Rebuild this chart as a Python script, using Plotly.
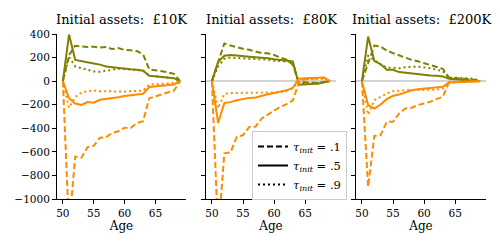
import plotly.graph_objects as go

ages = [50, 51, 52, 53, 54, 55, 56, 57, 58, 59, 60, 61, 62, 63, 64, 65, 66, 67, 68, 69]
titles = ["Initial assets:  £10K", "Initial assets:  £80K", "Initial assets:  £200K"]
legend_labels = ["<i>τ</i><sub><i>init</i></sub> = .1",
                 "<i>τ</i><sub><i>init</i></sub> = .5",
                 "<i>τ</i><sub><i>init</i></sub> = .9"]
y_ticks = [-1000, -800, -600, -400, -200, 0, 200, 400]
x_ticks = [50, 55, 60, 65]

# Panel 1: £10K
g_dash_10 = [0, 220, 300, 295, 290, 292, 285, 290, 272, 280, 265, 262, 255, 228, 100, 92, 85, 75, 62, 0]
g_solid_10 = [0, 395, 180, 172, 158, 150, 140, 125, 118, 110, 105, 100, 96, 88, 45, 40, 35, 30, 25, 0]
g_dot_10 = [0, 205, 125, 110, 95, 82, 80, 90, 100, 105, 103, 100, 96, 90, 48, 42, 36, 30, 25, 0]
o_dash_10 = [0, -1250, -640, -650, -560, -550, -480, -475, -440, -425, -395, -398, -355, -340, -145, -130, -115, -98, -80, 0]
o_solid_10 = [0, -145, -190, -202, -178, -183, -158, -152, -142, -137, -126, -118, -111, -107, -50, -45, -42, -36, -28, 0]
o_dot_10 = [0, -225, -135, -98, -85, -80, -85, -88, -88, -88, -88, -87, -84, -80, -30, -25, -22, -20, -15, 0]

# Panel 2: £80K
g_dash_80 = [0, 155, 320, 302, 287, 275, 266, 252, 238, 236, 222, 200, 182, 140, -15, -10, -12, -15, -8, 0]
g_solid_80 = [0, 165, 215, 222, 218, 210, 208, 203, 200, 195, 186, 180, 175, 167, -30, -25, -24, -22, -12, 0]
g_dot_80 = [0, 125, 190, 200, 196, 194, 190, 190, 185, 182, 174, 170, 167, 162, -18, -20, -20, -18, -10, 0]
o_dash_80 = [0, -1300, -612, -605, -472, -458, -388, -387, -316, -282, -246, -218, -195, -165, -10, 15, 20, 25, 30, 0]
o_solid_80 = [0, -355, -185, -178, -162, -150, -142, -138, -122, -112, -100, -88, -78, -58, 20, 25, 25, 28, 30, 0]
o_dot_80 = [0, -230, -108, -100, -100, -100, -100, -100, -100, -98, -96, -92, -82, -60, 12, 18, 15, 18, 20, 0]

# Panel 3: £200K
g_dash_200 = [0, 150, 302, 294, 260, 238, 218, 196, 180, 168, 152, 138, 124, 105, 30, 25, 20, 17, 12, 0]
g_solid_200 = [0, 378, 170, 145, 97, 96, 77, 70, 68, 62, 55, 48, 45, 40, 20, 17, 12, 9, 6, 0]
g_dot_200 = [0, 215, 180, 140, 116, 115, 110, 118, 118, 124, 116, 110, 97, 84, 30, 30, 27, 25, 20, 0]
o_dash_200 = [0, -895, -465, -458, -345, -345, -274, -232, -226, -203, -189, -175, -153, -133, -11, -8, -6, -5, -3, 0]
o_solid_200 = [0, -203, -232, -198, -153, -124, -113, -96, -78, -68, -62, -56, -51, -48, -11, -8, -6, -5, -3, 0]
o_dot_200 = [0, -285, -161, -133, -105, -85, -78, -76, -76, -76, -75, -74, -72, -62, -6, -5, -5, -4, -3, 0]

panels = [
    (g_dash_10, g_solid_10, g_dot_10, o_dash_10, o_solid_10, o_dot_10),
    (g_dash_80, g_solid_80, g_dot_80, o_dash_80, o_solid_80, o_dot_80),
    (g_dash_200, g_solid_200, g_dot_200, o_dash_200, o_solid_200, o_dot_200),
]

OLIVE = "#808000"
ORANGE = "#ff8c00"
DASHES = ["6px,3px", "solid", "2px,3px"]
FONT = "DejaVu Serif, Liberation Serif, serif"

fig = go.Figure()
for i, series in enumerate(panels):
    xa = "x" if i == 0 else f"x{i+1}"
    ya = "y" if i == 0 else f"y{i+1}"
    for j, vals in enumerate(series):
        color = OLIVE if j < 3 else ORANGE
        fig.add_trace(go.Scatter(x=ages, y=vals, mode="lines", xaxis=xa, yaxis=ya,
                                 line=dict(color=color, width=2, dash=DASHES[j % 3]),
                                 showlegend=False, hoverinfo="skip"))

for k, lab in enumerate(legend_labels):
    fig.add_trace(go.Scatter(x=[None], y=[None], mode="lines", xaxis="x2", yaxis="y2",
                             line=dict(color="black", width=2, dash=DASHES[k]),
                             name=lab, showlegend=True))

# page body has an 8px offset; compensate so the plot lands where the reference has it
L, T = 49, 26
FW, FH = 492, 242
W, H = 429, 165
R = FW - L - W
B = FH - T - H
domains = [[0, 129 / W], [149 / W, 279 / W], [299 / W, 1.0]]

layout = dict(
    width=FW, height=FH,
    margin=dict(l=L, r=R, t=T, b=B, autoexpand=False),
    paper_bgcolor="white", plot_bgcolor="white",
    font=dict(family=FONT, size=11, color="black"),
    legend=dict(x=195 / W, y=(199 - 131) / H, xanchor="left", yanchor="top",
                bgcolor="white", bordercolor="#cccccc", borderwidth=1,
                font=dict(family=FONT, size=11.5), tracegroupgap=0, itemwidth=30),
)
for i in range(3):
    sfx = "" if i == 0 else str(i + 1)
    layout["xaxis" + sfx] = dict(
        domain=domains[i], range=[49.05, 69.95], tickvals=x_ticks,
        showline=True, linecolor="black", linewidth=1, ticks="outside", ticklen=4,
        tickcolor="black", showgrid=False, zeroline=False,
        tickfont=dict(size=10.5), title=dict(text="Age", font=dict(size=12), standoff=4),
        anchor="y" + sfx,
    )
    layout["yaxis" + sfx] = dict(
        domain=[0, 1], range=[-1000, 400], tickvals=y_ticks,
        showline=True, linecolor="black", linewidth=1, ticks="outside", ticklen=4,
        tickcolor="black", showgrid=False,
        zeroline=(i > 0), zerolinecolor="#d3d3d3", zerolinewidth=2,
        showticklabels=(i == 0), tickfont=dict(size=10.5),
        anchor="x" + sfx,
    )
fig.update_layout(**layout)

for i in range(3):
    fig.add_annotation(text=titles[i], xref="paper", yref="paper",
                       x=(domains[i][0] + domains[i][1]) / 2, y=1.0, yshift=5,
                       xanchor="center", yanchor="bottom", showarrow=False,
                       font=dict(family=FONT, size=13))

fig.write_html("out.html")
